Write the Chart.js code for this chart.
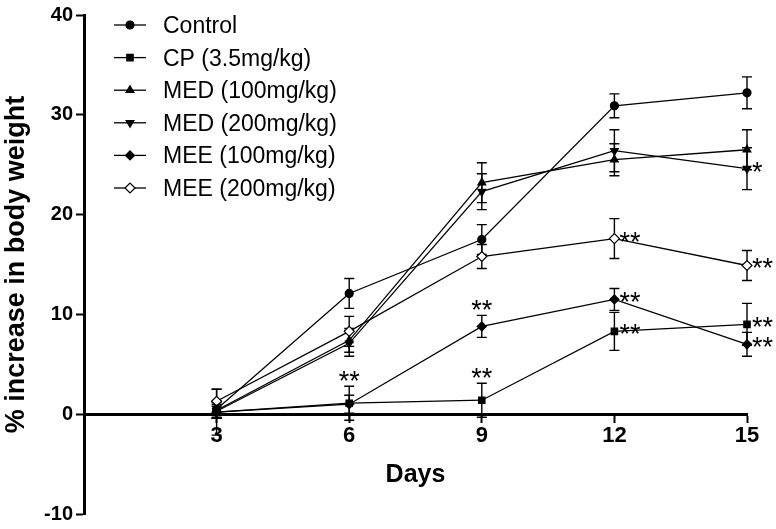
<!DOCTYPE html>
<html>
<head>
<meta charset="utf-8">
<script src="https://cdn.jsdelivr.net/npm/chart.js@4"></script>
<style>
html,body{margin:0;padding:0;background:#fff;}
#wrap{width:776px;height:529px;}
</style>
</head>
<body>
<div id="wrap"><canvas id="c" width="776" height="529"></canvas></div>
<script>
// ---- data ----
const days = [3, 6, 9, 12, 15];
const seriesNames = ['Control', 'CP (3.5mg/kg)', 'MED (100mg/kg)', 'MED (200mg/kg)', 'MEE (100mg/kg)', 'MEE (200mg/kg)'];
const yTicks = [-10, 0, 10, 20, 30, 40];

const control    = [0.5, 12.1, 17.5, 30.9, 32.2];
const controlErr = [0.8, 1.5, 1.5, 1.2, 1.6];
const cp         = [0.2, 1.1, 1.4, 8.3, 9.0];
const cpErr      = [2.3, 1.7, 1.7, 1.9, 2.1];
const med100     = [0.4, 7.4, 23.2, 25.5, 26.5];
const med100Err  = [0.8, 1.2, 2.0, 1.6, 2.0];
const med200     = [0.3, 7.1, 22.3, 26.4, 24.6];
const med200Err  = [0.7, 1.3, 1.8, 2.1, 2.1];
const mee100     = [0.2, 1.0, 8.8, 11.5, 7.0];
const mee100Err  = [0.6, 0.9, 1.1, 1.1, 1.2];
const mee200     = [1.3, 8.3, 15.8, 17.6, 14.9];
const mee200Err  = [1.2, 1.5, 1.2, 2.0, 1.5];

const controlSig = ['', '', '', '', ''];
const cpSig      = ['', '**', '**', '**', '**'];
const med100Sig  = ['', '', '', '', ''];
const med200Sig  = ['', '', '', '', '*'];
const mee100Sig  = ['', '', '**', '**', '**'];
const mee200Sig  = ['', '', '', '**', '**'];

// ---- styling ----
const values = [control, cp, med100, med200, mee100, mee200];
const errors = [controlErr, cpErr, med100Err, med200Err, mee100Err, mee200Err];
const sigs = [controlSig, cpSig, med100Sig, med200Sig, mee100Sig, mee200Sig];
const FONT = 'Arial, "Liberation Sans", sans-serif';
const styles = [
  {pointStyle:'circle', rot:0, r:4, fill:'#000'},
  {pointStyle:'rect', rot:0, r:4.5, fill:'#000'},
  {pointStyle:'triangle', rot:0, r:4.5, fill:'#000'},
  {pointStyle:'triangle', rot:180, r:4.5, fill:'#000'},
  {pointStyle:'rectRot', rot:0, r:4.5, fill:'#000'},
  {pointStyle:'rectRot', rot:0, r:5, fill:'#fff'}
];

const datasets = seriesNames.map((name, i) => ({
  label: name,
  data: days.map((d, j) => ({x: d, y: values[i][j]})),
  borderColor: '#000',
  borderWidth: 1.3,
  backgroundColor: styles[i].fill,
  pointStyle: styles[i].pointStyle,
  pointRotation: styles[i].rot,
  pointRadius: styles[i].r,
  pointBackgroundColor: styles[i].fill,
  pointBorderColor: '#000',
  pointBorderWidth: 1.2,
  tension: 0,
  clip: false
}));

const errorBarPlugin = {
  id: 'errorBars',
  beforeDatasetsDraw(chart) {
    const ctx = chart.ctx, xs = chart.scales.x, ys = chart.scales.y;
    ctx.save();
    ctx.strokeStyle = '#000';
    ctx.lineWidth = 1.4;
    values.forEach((vals, i) => {
      vals.forEach((v, j) => {
        const e = errors[i][j];
        const x = xs.getPixelForValue(days[j]);
        const yt = ys.getPixelForValue(v + e);
        const yb = ys.getPixelForValue(v - e);
        ctx.beginPath();
        ctx.moveTo(x, yt); ctx.lineTo(x, yb);
        ctx.moveTo(x - 5, yt); ctx.lineTo(x + 5, yt);
        ctx.moveTo(x - 5, yb); ctx.lineTo(x + 5, yb);
        ctx.stroke();
      });
    });
    ctx.restore();
  },
  afterDatasetsDraw(chart) {
    const ctx = chart.ctx, xs = chart.scales.x, ys = chart.scales.y;
    ctx.save();
    ctx.fillStyle = '#000';
    ctx.font = '27px ' + FONT;
    ctx.textBaseline = 'alphabetic';
    sigs.forEach((arr, i) => {
      arr.forEach((s, j) => {
        if (!s) return;
        const x = xs.getPixelForValue(days[j]);
        const v = values[i][j];
        if (j < 3) {
          const yt = ys.getPixelForValue(v + errors[i][j]);
          ctx.textAlign = 'center';
          ctx.fillText(s, x, yt + 4);
        } else {
          ctx.textAlign = 'left';
          ctx.fillText(s, x + 5, ys.getPixelForValue(v) + 12);
        }
      });
    });
    // legend
    ctx.font = '23px ' + FONT;
    ctx.textAlign = 'left';
    seriesNames.forEach((name, i) => {
      const y = 25 + i * 32.6;
      ctx.strokeStyle = '#000';
      ctx.lineWidth = 1.3;
      ctx.beginPath();
      ctx.moveTo(114, y); ctx.lineTo(146, y);
      ctx.stroke();
      ctx.fillStyle = styles[i].fill;
      ctx.lineWidth = 1.2;
      Chart.helpers.drawPoint(ctx, {pointStyle: styles[i].pointStyle, rotation: styles[i].rot, radius: styles[i].r, borderWidth: 1.2}, 130, y);
      ctx.fillStyle = '#000';
      ctx.fillText(name, 163, y + 8);
    });
    ctx.restore();
  }
};

new Chart(document.getElementById('c'), {
  type: 'line',
  data: {datasets},
  options: {
    responsive: false,
    animation: false,
    events: [],
    layout: {padding: {left: 0, right: 29, top: 10, bottom: 10}},
    plugins: {legend: {display: false}, tooltip: {enabled: false}},
    scales: {
      x: {
        type: 'linear',
        min: 0, max: 15,
        position: {y: 0},
        afterBuildTicks(scale) { scale.ticks = days.map(v => ({value: v})); },
        ticks: {color: '#000', font: {family: FONT, size: 22, weight: 'bold'}, padding: 2, maxRotation: 0},
        grid: {drawOnChartArea: false, drawTicks: true, tickLength: 7, tickWidth: 2, tickColor: '#000'},
        border: {color: '#000', width: 3},
        title: {display: true, text: 'Days', color: '#000', font: {family: FONT, size: 25, weight: 'bold'}, padding: {top: 9}}
      },
      y: {
        min: -10, max: 40,
        afterBuildTicks(scale) { scale.ticks = yTicks.map(v => ({value: v})); },
        afterFit(scale) { scale.width = 84; },
        ticks: {color: '#000', font: {family: FONT, size: 20, weight: 'bold'}, padding: 3},
        grid: {drawOnChartArea: false, drawTicks: true, tickLength: 8, tickWidth: 2, tickColor: '#000'},
        border: {color: '#000', width: 3},
        title: {display: true, text: '% increase in body weight', color: '#000', font: {family: FONT, size: 27, weight: 'bold'}, padding: {top: 0, bottom: 0}}
      }
    }
  },
  plugins: [errorBarPlugin]
});
</script>
</body>
</html>
